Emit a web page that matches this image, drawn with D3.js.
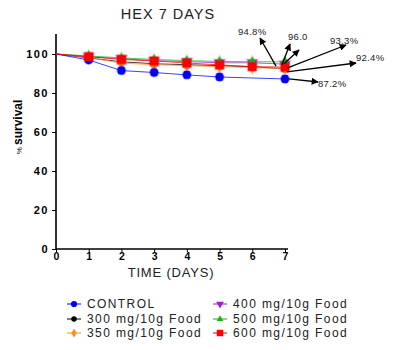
<!DOCTYPE html>
<html>
<head>
<meta charset="utf-8">
<script src="https://cdn.jsdelivr.net/npm/d3@7"></script>
<style>
  body { margin: 0; background: #fff; }
  text { font-family: Arial, "Liberation Sans", sans-serif; }
</style>
</head>
<body>
<div id="chart"></div>
<script>
// days on the x axis
const days = [0, 1, 2, 3, 4, 5, 6, 7];
const xTicks = [0, 1, 2, 3, 4, 5, 6, 7];
const yTicks = [0, 20, 40, 60, 80, 100];

// series names, colours and marker shapes
const seriesNames = ["CONTROL", "300 mg/10g Food", "350 mg/10g Food", "400 mg/10g Food", "500 mg/10g Food", "600 mg/10g Food"];
const seriesColors = ["#0000ff", "#000000", "#ff8c1a", "#9b1fd6", "#1fae1f", "#ff0000"];

// % survival for each group (null = no point that day)
const control = [100, 96.9, 91.5, 90.5, 89.3, 88.2, null, 87.2];
const food300 = [100, 98.0, 96.0, 95.0, 94.5, 94.0, 93.5, 92.4];
const food350 = [100, 98.2, 95.3, 94.5, 94.0, 93.5, 93.0, 92.6];
const food400 = [100, 98.6, 97.6, 96.6, 96.1, 95.5, 95.5, 94.8];
const food500 = [100, 99.0, 98.0, 97.2, 96.6, 96.2, 96.0, 96.0];
const food600 = [100, 98.6, 97.2, 96.4, 95.4, 94.4, 93.5, 93.3];

// error bars (SEM)
const controlErr = [0, 1.0, 1.6, 1.6, 1.6, 1.6, null, 1.6];
const otherErr = [0, 0.8, 0.8, 0.8, 0.8, 0.8, 0.8, 0.8];

// final-day annotations
const annoLabels = ["94.8%", "96.0", "", "93.3%", "92.4%", "87.2%"];

const allSeries = [control, food300, food350, food400, food500, food600];

const width = 397, height = 350;

const svg = d3.select("#chart").append("svg")
  .attr("width", width)
  .attr("height", height);

const x = d3.scaleLinear().domain([0, 7]).range([56, 285]);
const y = d3.scaleLinear().domain([0, 110]).range([249, 34.5]);

// title
svg.append("text")
  .attr("x", 168).attr("y", 19)
  .attr("text-anchor", "middle")
  .style("font-size", "14.5px")
  .style("letter-spacing", "1px")
  .attr("fill", "#222")
  .text("HEX 7 DAYS");

// axes
const xAxis = svg.append("g")
  .attr("transform", "translate(0,249)")
  .call(d3.axisBottom(x).tickValues(xTicks).tickSize(3).tickFormat(d3.format("d")));
xAxis.select(".domain").attr("d", "M56,0H288").attr("stroke-width", 1.6);
xAxis.selectAll("text").style("font-size", "10.5px").style("font-weight", "bold").attr("dy", "0.5em");

const yAxis = svg.append("g")
  .attr("transform", "translate(56,0)")
  .call(d3.axisLeft(y).tickValues(yTicks).tickSize(4));
yAxis.select(".domain").attr("d", "M0,249V34").attr("stroke-width", 1.6);
yAxis.selectAll("text").style("font-size", "11px").style("font-weight", "bold").style("letter-spacing", "1.5px");

// axis titles
svg.append("text")
  .attr("x", 171).attr("y", 277)
  .attr("text-anchor", "middle")
  .style("font-size", "13px")
  .style("letter-spacing", "0.8px")
  .attr("fill", "#222")
  .text("TIME (DAYS)");

const yt = svg.append("text")
  .attr("transform", "translate(22,127) rotate(-90)")
  .attr("text-anchor", "middle")
  .style("font-size", "12px");
yt.append("tspan").style("font-size", "8px").text("% ");
yt.append("tspan").style("font-weight", "bold").text("survival");

// marker shapes
const symbols = [d3.symbolCircle, d3.symbolCircle, d3.symbolDiamond, d3.symbolTriangle, d3.symbolTriangle, d3.symbolSquare];
const sizes = [50, 40, 40, 44, 32, 70];
const rotations = [0, 0, 0, 180, 0, 0];

// draw order so control and 600 sit on top like the reference
const order = [1, 2, 3, 4, 0, 5];
order.forEach(function(i) {
  const vals = allSeries[i];
  const pts = days.map(function(d, k) { return {day: d, v: vals[k], e: i === 0 ? controlErr[k] : otherErr[k]}; })
    .filter(function(p) { return p.v !== null; });
  const color = seriesColors[i];

  const line = d3.line().x(function(p) { return x(p.day); }).y(function(p) { return y(p.v); });
  svg.append("path")
    .datum(pts)
    .attr("d", line)
    .attr("fill", "none")
    .attr("stroke", color)
    .attr("stroke-opacity", 0.75)
    .attr("stroke-width", 1);

  const g = svg.append("g");
  pts.filter(function(p) { return p.day > 0; }).forEach(function(p) {
    const cx = x(p.day), y1 = y(p.v + p.e), y2 = y(p.v - p.e);
    g.append("path")
      .attr("d", `M${cx},${y1}V${y2}M${cx - 3},${y1}H${cx + 3}M${cx - 3},${y2}H${cx + 3}`)
      .attr("stroke", color).attr("stroke-width", 1).attr("fill", "none");
  });
  g.selectAll(".m")
    .data(pts.filter(function(p) { return p.day > 0; }))
    .join("path")
    .attr("transform", function(p) { return `translate(${x(p.day)},${y(p.v)}) rotate(${rotations[i]})`; })
    .attr("d", d3.symbol().type(symbols[i]).size(sizes[i]))
    .attr("fill", color)
    .attr("stroke", color)
    .attr("stroke-opacity", 0.35)
    .attr("stroke-width", 2);
});

// arrow annotations from the day 7 points
svg.append("defs").append("marker")
  .attr("id", "arr")
  .attr("viewBox", "0 0 10 10")
  .attr("refX", 9).attr("refY", 5)
  .attr("markerWidth", 9).attr("markerHeight", 7)
  .attr("markerUnits", "userSpaceOnUse")
  .attr("orient", "auto")
  .append("path").attr("d", "M0,0L10,5L0,10Z").attr("fill", "#000");

const x7 = x(7);
const arrowSpec = [
  {from: [x7 - 9, y(94.8) + 2], to: [260, 38], lx: 238, ly: 35},
  {from: [x7 - 3, y(95) + 1], to: [290, 44], lx: 288, ly: 40},
  {from: [x7 - 1, y(95)], to: [299, 50], lx: 0, ly: 0},
  {from: [x7 + 2, y(93.3) + 1], to: [346, 45], lx: 330, ly: 44},
  {from: [x7 + 2, y(92.4) + 3], to: [356, 63], lx: 356, ly: 61},
  {from: [x7 + 4, y(87.2)], to: [318, 82], lx: 318, ly: 87}
];
arrowSpec.forEach(function(a, i) {
  svg.append("line")
    .attr("x1", a.from[0]).attr("y1", a.from[1])
    .attr("x2", a.to[0]).attr("y2", a.to[1])
    .attr("stroke", "#000").attr("stroke-width", 1.3)
    .attr("marker-end", "url(#arr)");
  if (annoLabels[i]) {
    svg.append("text")
      .attr("x", a.lx).attr("y", a.ly)
      .style("font-size", "9.5px")
      .style("letter-spacing", "0.3px")
      .attr("fill", "#222")
      .text(annoLabels[i]);
  }
});

// legend
const legendPos = [[74, 304], [74, 319], [74, 333], [220, 304], [220, 319], [220, 333]];
seriesNames.forEach(function(name, i) {
  const lx = legendPos[i][0], ly = legendPos[i][1];
  svg.append("line")
    .attr("x1", lx - 7).attr("x2", lx + 7).attr("y1", ly).attr("y2", ly)
    .attr("stroke", seriesColors[i]).attr("stroke-width", 1);
  svg.append("path")
    .attr("transform", `translate(${lx},${ly}) rotate(${rotations[i]})`)
    .attr("d", d3.symbol().type(symbols[i]).size(sizes[i] * 0.6))
    .attr("fill", seriesColors[i]);
  svg.append("text")
    .attr("x", lx + 13).attr("y", ly + 4)
    .style("font-size", "12px")
    .style("letter-spacing", "1.4px")
    .attr("fill", "#222")
    .text(name);
});
</script>
</body>
</html>
